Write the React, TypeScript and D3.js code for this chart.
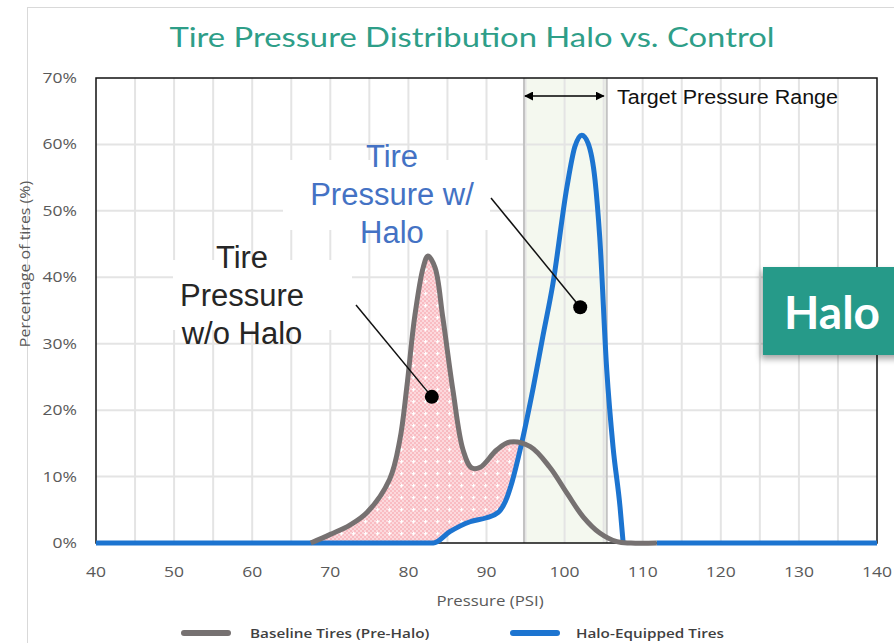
import React, { useEffect, useRef } from "react";
import * as d3 from "d3";

const W = 894;
const H = 643;

// Baseline tires (pre-halo)
const basePsi = [67.5, 70, 72.5, 74.7, 77.6, 78.9, 79.8, 80.8, 81.9, 82.5, 83.4, 84.4, 85.7, 87, 88.1, 89.2, 91.3, 93, 95.6, 98.1, 100.3, 102.4, 104.5, 106.7, 108.5, 111.8];
const basePct = [0, 1.3, 2.7, 4.6, 9.6, 15.5, 23.5, 34, 41.5, 43.2, 41.5, 34, 23, 14, 11.3, 11.4, 14, 15.2, 14.5, 11.4, 7.5, 3.9, 1.5, 0.2, 0, 0];

// Halo-equipped tires (null where the baseline tail sits on top)
const haloPsi = [40, 83.2, 85.3, 87.9, 90, 91.5, 92.4, 93.3, 94.3, 96, 97.2, 98.5, 100.3, 101.3, 102.2, 103, 103.9, 104.5, 105.4, 106.2, 107.1, 107.5, 109, 111.8, 140];
const haloPct: (number | null)[] = [0, 0, 1.7, 3.2, 3.8, 4.6, 6.2, 9.3, 14, 23.5, 31, 39, 53.6, 59.6, 61.4, 60.2, 54.6, 46, 26, 14.5, 5.4, 0, null, 0, 0];

const xTicks = [40, 50, 60, 70, 80, 90, 100, 110, 120, 130, 140];
const yTicks = [0, 10, 20, 30, 40, 50, 60, 70];
const xGrid = [45, 50, 55, 60, 65, 70, 75, 80, 85, 90, 95, 100, 105, 110, 115, 120, 125, 130, 135];
const yGrid = [10, 20, 30, 40, 50, 60];
const targetRange = [94.8, 105.4];

const axisFont = "'Open Sans', 'Noto Sans', sans-serif";
const labelFont = "'Liberation Sans', Arial, sans-serif";

export default function App() {
  const ref = useRef<SVGSVGElement>(null);

  useEffect(() => {
    const svg = d3.select(ref.current);
    svg.selectAll("*").remove();

    const x = d3.scaleLinear().domain([40, 140]).range([96, 877]);
    const y = d3.scaleLinear().domain([0, 70]).range([543, 78]);

    const base = basePsi.map((p, i) => [p, basePct[i]] as [number, number]);
    const halo = haloPsi.map((p, i) => [p, haloPct[i]] as [number, number | null]);
    const baseCurve = d3.curveCatmullRom.alpha(0.5);
    const haloCurve = d3.curveMonotoneX;

    const defs = svg.append("defs");
    // pink checker pattern with white crosses
    const pat = defs.append("pattern").attr("id", "pink").attr("patternUnits", "userSpaceOnUse")
      .attr("width", 12).attr("height", 12);
    pat.append("rect").attr("width", 12).attr("height", 12).attr("fill", "#fcd5d9");
    for (let i = 0; i < 6; i++) for (let j = 0; j < 6; j++) {
      if ((i + j) % 2 === 0) pat.append("rect").attr("x", i * 2).attr("y", j * 2).attr("width", 2).attr("height", 2).attr("fill", "#f8b4bb");
    }
    pat.append("rect").attr("x", 5).attr("y", 4).attr("width", 1.2).attr("height", 3.4).attr("fill", "#fff");
    pat.append("rect").attr("x", 3.9).attr("y", 5.1).attr("width", 3.4).attr("height", 1.2).attr("fill", "#fff");

    const above = d3.area<[number, number | null]>()
      .defined(d => d[1] !== null)
      .x(d => x(d[0])).y0(y(70)).y1(d => y(d[1] as number))
      .curve(haloCurve);
    defs.append("clipPath").attr("id", "aboveHalo").append("path").attr("d", above(halo) as string);

    const shadow = defs.append("filter").attr("id", "shadow").attr("x", "-20%").attr("y", "-20%").attr("width", "140%").attr("height", "150%");
    shadow.append("feDropShadow").attr("dx", -2).attr("dy", 4).attr("stdDeviation", 3).attr("flood-color", "#000").attr("flood-opacity", 0.35);

    // outer chart frame
    svg.append("rect").attr("x", 27.5).attr("y", 7.5).attr("width", 900).attr("height", 700)
      .attr("fill", "#fff").attr("stroke", "#d9d9d9");

    // title
    svg.append("text").attr("x", 472).attr("y", 47).attr("text-anchor", "middle")
      .attr("font-family", "Lato, 'Open Sans', sans-serif").attr("font-weight", 400).attr("font-size", 27)
      .attr("fill", "#2e9e88").attr("textLength", 605).attr("lengthAdjust", "spacingAndGlyphs")
      .text("Tire Pressure Distribution Halo vs. Control");

    // target range shading
    svg.append("rect").attr("x", x(targetRange[0])).attr("y", y(70))
      .attr("width", x(targetRange[1]) - x(targetRange[0])).attr("height", y(0) - y(70))
      .attr("fill", "#f4f8ef");

    // grid
    svg.append("g").selectAll("line").data(xGrid).join("line")
      .attr("x1", d => x(d)).attr("x2", d => x(d)).attr("y1", y(70)).attr("y2", y(0))
      .attr("stroke", "#e4e4e4").attr("stroke-width", 2);
    svg.append("g").selectAll("line").data(yGrid).join("line")
      .attr("x1", x(40)).attr("x2", x(140)).attr("y1", d => y(d)).attr("y2", d => y(d))
      .attr("stroke", "#e4e4e4").attr("stroke-width", 2);
    svg.append("g").selectAll("line").data(targetRange).join("line")
      .attr("x1", d => x(d)).attr("x2", d => x(d)).attr("y1", y(70)).attr("y2", y(0))
      .attr("stroke", "#c3c3c3").attr("stroke-width", 2);

    // pink fill under baseline, above halo curve
    const under = d3.area<[number, number]>().x(d => x(d[0])).y0(y(0)).y1(d => y(d[1])).curve(baseCurve);
    svg.append("path").attr("d", under(base) as string).attr("fill", "url(#pink)")
      .attr("opacity", 0.9).attr("clip-path", "url(#aboveHalo)");

    // plot border
    svg.append("rect").attr("x", x(40)).attr("y", y(70)).attr("width", x(140) - x(40)).attr("height", y(0) - y(70))
      .attr("fill", "none").attr("stroke", "#111").attr("stroke-width", 1.5);

    // white text boxes
    svg.append("rect").attr("x", 283).attr("y", 160).attr("width", 207).attr("height", 70).attr("fill", "#fff");
    svg.append("rect").attr("x", 173).attr("y", 260).attr("width", 179).attr("height", 70).attr("fill", "#fff");

    // curves
    const haloLine = d3.line<[number, number | null]>()
      .defined(d => d[1] !== null)
      .x(d => x(d[0])).y(d => y(d[1] as number)).curve(haloCurve);
    const baseLine = d3.line<[number, number]>().x(d => x(d[0])).y(d => y(d[1])).curve(baseCurve);
    svg.append("path").attr("d", haloLine(halo) as string).attr("fill", "none")
      .attr("stroke", "#1c74d0").attr("stroke-width", 5).attr("stroke-linejoin", "round");
    svg.append("path").attr("d", baseLine(base) as string).attr("fill", "none")
      .attr("stroke", "#767171").attr("stroke-width", 5).attr("stroke-linejoin", "round");

    // y tick labels
    svg.append("g").selectAll("text").data(yTicks).join("text")
      .attr("transform", d => `translate(77,${y(d) + 5}) scale(1.25,1)`)
      .attr("text-anchor", "end").attr("font-family", axisFont).attr("font-size", 14).attr("fill", "#595959")
      .text(d => `${d}%`);
    // x tick labels
    svg.append("g").selectAll("text").data(xTicks).join("text")
      .attr("transform", d => `translate(${x(d)},577) scale(1.25,1)`)
      .attr("text-anchor", "middle").attr("font-family", axisFont).attr("font-size", 14).attr("fill", "#595959")
      .text(d => d);

    // axis titles
    svg.append("text").attr("transform", "translate(490,606) scale(1.2,1)").attr("text-anchor", "middle")
      .attr("font-family", axisFont).attr("font-size", 14).attr("fill", "#595959").text("Pressure (PSI)");
    svg.append("text").attr("transform", "translate(30,264) rotate(-90) scale(1.1,1)").attr("text-anchor", "middle")
      .attr("font-family", axisFont).attr("font-size", 14.5).attr("fill", "#595959").text("Percentage of tires (%)");

    // legend
    const legend = [
      { label: "Baseline Tires (Pre-Halo)", color: "#767171", x0: 181, tx: 250 },
      { label: "Halo-Equipped Tires", color: "#1c74d0", x0: 510, tx: 576 },
    ];
    const lg = svg.append("g").selectAll("g").data(legend).join("g");
    lg.append("line").attr("x1", d => d.x0 + 3).attr("x2", d => d.x0 + 47).attr("y1", 633).attr("y2", 633)
      .attr("stroke", d => d.color).attr("stroke-width", 6).attr("stroke-linecap", "round");
    lg.append("text").attr("transform", d => `translate(${d.tx},638) scale(1.15,1)`)
      .attr("font-family", axisFont).attr("font-weight", 600).attr("font-size", 13.3).attr("fill", "#404040")
      .text(d => d.label);

    // annotations
    const blueLines = ["Tire", "Pressure w/", "Halo"];
    svg.append("g").selectAll("text").data(blueLines).join("text")
      .attr("x", 392).attr("y", (d, i) => 167 + i * 38).attr("text-anchor", "middle")
      .attr("font-family", labelFont).attr("font-size", 31).attr("fill", "#4472c4").text(d => d);
    const darkLines = ["Tire", "Pressure", "w/o Halo"];
    svg.append("g").selectAll("text").data(darkLines).join("text")
      .attr("x", 242).attr("y", (d, i) => 268 + i * 38).attr("text-anchor", "middle")
      .attr("font-family", labelFont).attr("font-size", 31).attr("fill", "#262626").text(d => d);

    const pointers = [
      { x1: 491, y1: 198, px: 102, py: 35.5 },
      { x1: 356, y1: 305, px: 83, py: 22 },
    ];
    const pg = svg.append("g").selectAll("g").data(pointers).join("g");
    pg.append("line").attr("x1", d => d.x1).attr("y1", d => d.y1).attr("x2", d => x(d.px)).attr("y2", d => y(d.py))
      .attr("stroke", "#111").attr("stroke-width", 1.5);
    pg.append("circle").attr("cx", d => x(d.px)).attr("cy", d => y(d.py)).attr("r", 7).attr("fill", "#000");

    // target range arrow
    defs.append("marker").attr("id", "ah").attr("viewBox", "0 0 10 10").attr("refX", 9).attr("refY", 5)
      .attr("markerWidth", 9).attr("markerHeight", 9).attr("orient", "auto-start-reverse").attr("markerUnits", "userSpaceOnUse")
      .append("path").attr("d", "M0,0 L10,5 L0,10 Z").attr("fill", "#000");
    svg.append("line").attr("x1", x(targetRange[0]) + 1).attr("x2", x(targetRange[1]) - 3).attr("y1", 96).attr("y2", 96)
      .attr("stroke", "#000").attr("stroke-width", 1.5)
      .attr("marker-start", "url(#ah)").attr("marker-end", "url(#ah)");
    svg.append("text").attr("x", 617).attr("y", 104).attr("font-family", labelFont).attr("font-size", 20)
      .attr("fill", "#111").attr("textLength", 221).attr("lengthAdjust", "spacingAndGlyphs").text("Target Pressure Range");

    // Halo badge
    svg.append("rect").attr("x", 763).attr("y", 267).attr("width", 140).attr("height", 88)
      .attr("fill", "#269a89").attr("filter", "url(#shadow)");
    svg.append("text").attr("x", 784).attr("y", 329).attr("font-family", "Lato, 'Open Sans', sans-serif")
      .attr("font-weight", 700).attr("font-size", 46).attr("fill", "#fff").text("Halo");
  }, []);

  return (
    <svg ref={ref} width={W} height={H} style={{ position: "absolute", left: 0, top: 0, background: "#fff" }} />
  );
}
